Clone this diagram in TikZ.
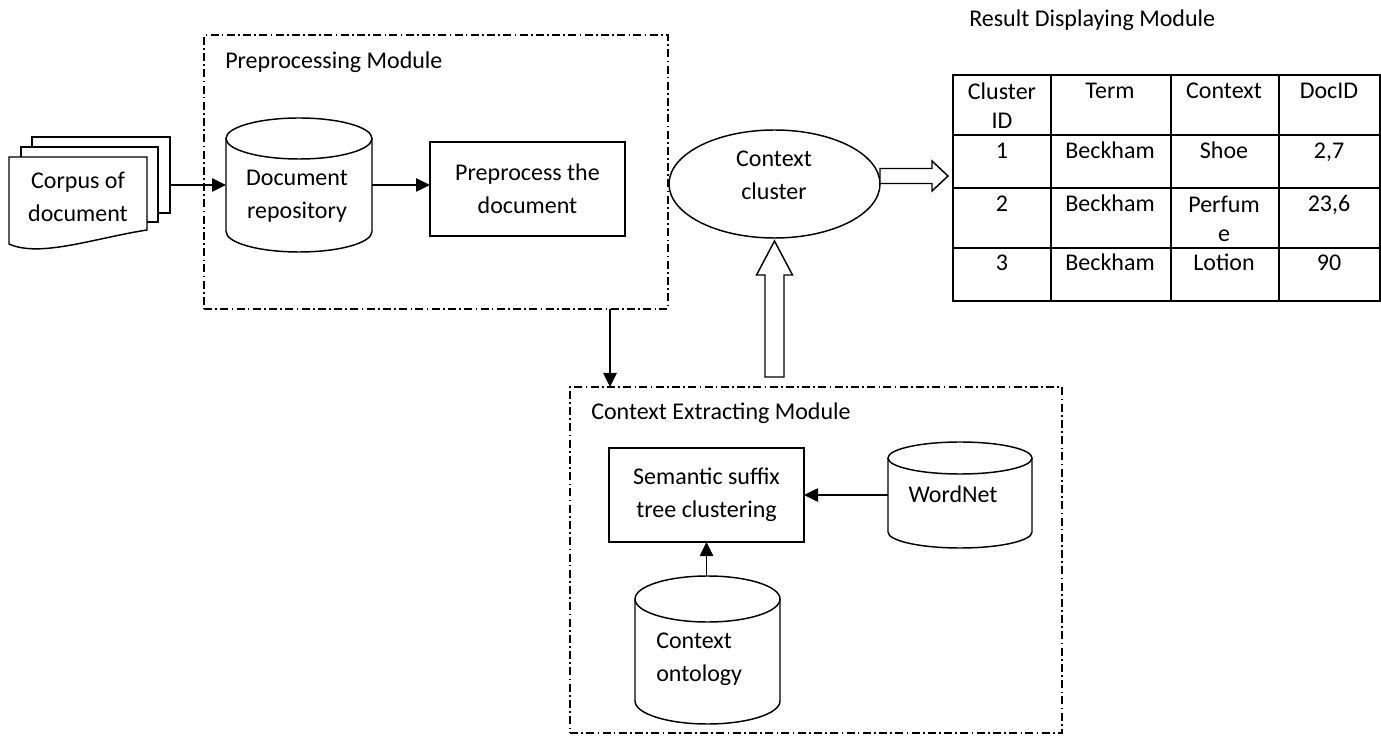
\documentclass[tikz,border=0pt]{standalone}
\usepackage{fontspec}
\setmainfont{Carlito}
\usetikzlibrary{arrows.meta,shapes.geometric,calc}
\begin{document}
\begin{tikzpicture}[x=0.75pt,y=-0.75pt,
  font=\fontsize{18}{24.75}\selectfont,
  ln/.style={line width=1.1pt},
  arr/.style={ln,-{Triangle[length=10.5pt,width=10pt]}},
  blk/.style={ln,fill=white},
  modbox/.style={draw,line width=1.1pt,dash pattern=on 6pt off 2.5pt on 1.2pt off 2.5pt,inner sep=0pt,outer sep=0pt},
  plain/.style={inner sep=0pt,outer sep=0pt},
  procbox/.style={draw,ln,inner sep=0pt,outer sep=0pt,align=center,minimum width=146.25pt,minimum height=70.5pt},
  txt/.style={inner sep=0pt,align=center},
  cell/.style={inner sep=0pt,align=center,text height=12.5pt,text depth=4pt,font=\fontsize{18}{21.75}\selectfont},
  cellb/.style={inner sep=0pt,align=center,font=\fontsize{18}{21.75}\selectfont}]
\useasboundingbox (0,0) rectangle (1381,737);

% ---------- Corpus of documents ----------
\node[plain,minimum width=120.75pt,minimum height=84pt] (corpus) at (89.5,193) {};
\draw[ln,fill=white] (32,137) rectangle (170,213);
\draw[ln,fill=white] (21,147) rectangle (158,222);
\draw[ln,fill=white] (9,157) -- (147,157) -- (147,230) .. controls (95,238) and (40,258) .. (9,244) -- cycle;
\node[txt] at (78,196.5) {Corpus of\\document};

% ---------- Preprocessing module ----------
\node[modbox,minimum width=348pt,minimum height=205.5pt] (prep) at (436,172) {};
\node[txt,anchor=west] at (225,62) {Preprocessing Module};

\node[plain,minimum width=109.5pt,minimum height=100.5pt] (repo) at (299,185) {};
\draw[ln,fill=white] (226,138.5) -- (226,231.5) arc[start angle=180,end angle=0,x radius=73,y radius=20.5] -- (372,138.5);
\draw[ln] (299,138.5) ellipse[x radius=73,y radius=20.5];
\node[txt] at (297,196.5) {Document\\repository};

\node[procbox] (pre) at (527.5,189) {Preprocess the\\document};

\draw[arr] (corpus.east |- repo.west) -- (repo.west);
\draw[arr] (repo.east) -- (repo.east -| pre.west);

% ---------- Context cluster ----------
\node[draw,ln,ellipse,inner sep=0pt,outer sep=0pt,minimum width=158.25pt,minimum height=81pt] (cl) at (774.5,184) {};
\node[txt] at (774,175.5) {Context\\cluster};

% ---------- Result table ----------
\node[txt,anchor=west] at (969,20) {Result Displaying Module};
\node[draw,ln,inner sep=0pt,outer sep=0pt,minimum width=320.25pt,minimum height=169.5pt] (tbl) at (1166.5,188) {};
\foreach \y in {135,188,248} \draw[ln] (tbl.west |- 0,\y) -- (tbl.east |- 0,\y);
\foreach \x in {1051,1171,1279} \draw[ln] (tbl.north -| \x,0) -- (tbl.south -| \x,0);
\node[cellb] at (1002,106) {Cluster\\ID};
\node[cell] at (1110,93) {Term};
\node[cell] at (1224,93) {Context};
\node[cell] at (1329,93) {DocID};
\node[cell] at (1002,153) {1};
\node[cell] at (1110,153) {Beckham};
\node[cell] at (1224,153) {Shoe};
\node[cell] at (1329,153) {2,7};
\node[cell] at (1002,206) {2};
\node[cell] at (1110,206) {Beckham};
\node[cellb] at (1224,219) {Perfum\\e};
\node[cell] at (1329,206) {23,6};
\node[cell] at (1002,265) {3};
\node[cell] at (1110,265) {Beckham};
\node[cell] at (1224,265) {Lotion};
\node[cell] at (1329,265) {90};

% block arrow cluster -> table
\draw[blk,shift={($(cl.east)+(0,-8)$)}] (0,-7.5) -- (52,-7.5) -- (52,-15) -- (68,0) -- (52,15) -- (52,7.5) -- (0,7.5) -- cycle;

% ---------- Context extracting module ----------
\node[modbox,minimum width=369pt,minimum height=259.5pt] (ext) at (816,560) {};
\node[txt,anchor=west] at (591,413) {Context Extracting Module};

% block arrow ext -> cluster
\draw[blk,shift={(cl.south)}] (0,3) -- (18,37) -- (9.5,37) -- (9.5,139) -- (-9.5,139) -- (-9.5,37) -- (-18,37) -- cycle;

% arrow prep -> ext
\coordinate (dx) at (610,0);
\draw[arr] (prep.south -| dx) -- (ext.north -| dx);

\node[procbox] (sst) at (706.5,495) {Semantic suffix\\tree clustering};

\node[plain,minimum width=108pt,minimum height=79.5pt] (wn) at (960,495) {};
\draw[ln,fill=white] (888,458) -- (888,532) arc[start angle=180,end angle=0,x radius=72,y radius=16] -- (1032,458);
\draw[ln] (960,458) ellipse[x radius=72,y radius=16];
\node[txt] at (953,494) {WordNet};

\node[plain,minimum width=108.75pt,minimum height=111pt] (onto) at (707.5,650) {};
\draw[ln,fill=white] (635,599) -- (635,701) arc[start angle=180,end angle=0,x radius=72.5,y radius=23] -- (780,599);
\draw[ln] (707.5,599) ellipse[x radius=72.5,y radius=23];
\node[txt,anchor=west,align=left] at (656,659) {Context\\ontology};

\draw[arr] (wn.west) -- (wn.west -| sst.east);
\draw[arr] (onto.north -| sst.south) -- (sst.south);
\end{tikzpicture}
\end{document}
